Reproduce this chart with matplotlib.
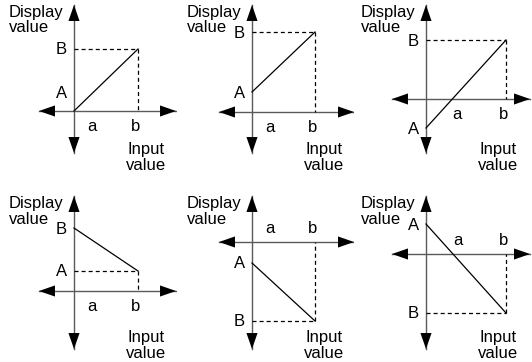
import matplotlib.pyplot as plt

plt.rcParams['font.family'] = ['Liberation Sans', 'DejaVu Sans']
plt.rcParams['lines.scale_dashes'] = False

# display value where the line starts (input 0) and where it ends (input b)
y_start = [0, 20, -29, 63, -21, 30]
y_end = [62, 80, 59, 20, -79, -59]
start_name = ['A', 'A', 'A', 'B', 'A', 'A']
end_name = ['B', 'B', 'B', 'A', 'B', 'B']
input_b = [64, 63, 80, 64, 63, 80]

# reach of the two axes around the origin
x_left = [-35, -33, -34, -35, -33, -34]
x_right = [102, 102, 104, 102, 102, 104]
y_bottom = [-42, -41, -54, -58, -107, -95]
y_top = [106, 107, 94, 95, 46, 58]

W, H = 532, 362
fig = plt.figure(figsize=(W / 100, H / 100), dpi=100)

origin_x = [74, 252, 426, 74, 252, 426]
origin_y = [111, 112, 99, 291, 242, 254]
cell_x = [0, 177, 354]
cell_w = [177, 177, 178]
FS = 12
AXIS_GREY = '#5a5a5a'


def head(ax, x, y, dx, dy):
    ax.annotate('', xy=(x, y), xytext=(x - 16 * dx, y - 16 * dy),
                arrowprops=dict(arrowstyle='-|>,head_length=1.15,head_width=0.4',
                                color='black', lw=0, shrinkA=0, shrinkB=0,
                                mutation_scale=10))


for i in range(6):
    col, row = i % 3, i // 3
    cl, cw = cell_x[col], cell_w[col]
    ct, ch = row * 181, 181
    ox, oy = origin_x[i], origin_y[i]
    ax = fig.add_axes([cl / W, 1 - (ct + ch) / H, cw / W, ch / H])
    ax.set_xlim(cl - ox, cl + cw - ox)
    ax.set_ylim(oy - (ct + ch), oy - ct)
    ax.axis('off')

    # axes with arrowheads
    ax.plot([x_left[i], x_right[i]], [0, 0], color=AXIS_GREY, lw=1.0)
    ax.plot([0, 0], [y_bottom[i], y_top[i]], color=AXIS_GREY, lw=1.0)
    head(ax, x_right[i], 0, 1, 0)
    head(ax, x_left[i], 0, -1, 0)
    head(ax, 0, y_top[i], 0, 1)
    head(ax, 0, y_bottom[i], 0, -1)

    b = input_b[i]
    y0, y1 = y_start[i], y_end[i]
    ax.plot([0, b], [y0, y1], color='black', lw=0.9)
    ax.plot([0, b], [y1, y1], color='black', lw=0.9, dashes=(2.9, 2.2))
    ax.plot([b, b], [y1, 0], color='black', lw=0.9, dashes=(2.9, 2.2))

    # A / B labels
    ly0 = y0 if y0 != 0 else 19
    ax.text(-7, ly0 - 5.5, start_name[i], ha='right', va='baseline', fontsize=FS)
    ax.text(-7, y1 - 5.5, end_name[i], ha='right', va='baseline', fontsize=FS)

    # a / b labels, below the horizontal axis unless the plot lies under it
    ly = 9 if max(y0, y1) < 0 or (y0 > 0 > y1) else -20
    if y0 * y1 < 0:
        ax_label = -y0 * b / (y1 - y0) + 5
    else:
        ax_label = 18
    ax.text(ax_label, ly, 'a', ha='center', va='baseline', fontsize=FS)
    ax.text(b - 2, ly, 'b', ha='center', va='baseline', fontsize=FS)

    # axis titles, one line per text
    ax.text(-65, y_top[i] - 12, 'Display', ha='left', va='baseline', fontsize=FS)
    ax.text(-65, y_top[i] - 27.5, 'value', ha='left', va='baseline', fontsize=FS)
    base = oy - (154 + row * 188)
    ax.text(72, base, 'Input', ha='center', va='baseline', fontsize=FS)
    ax.text(72, base - 15.5, 'value', ha='center', va='baseline', fontsize=FS)

fig.savefig('out.png', dpi=100)
